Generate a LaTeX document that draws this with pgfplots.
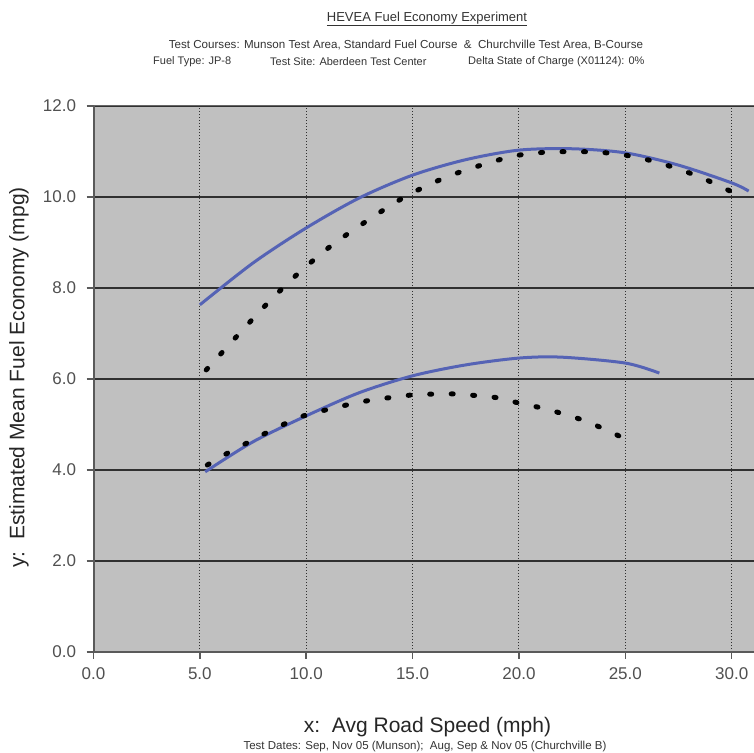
\documentclass[border=0pt]{standalone}
\usepackage{pgfplots}
\pgfplotsset{compat=1.18}
\usepackage{fontspec}
\setmainfont{Liberation Sans}
\definecolor{plotgray}{HTML}{C0C0C0}
\definecolor{axisgray}{HTML}{5A5A5A}
\definecolor{tickgray}{HTML}{505050}
\definecolor{lineblue}{HTML}{5563B5}
\definecolor{gridcol}{HTML}{303030}
\begin{document}
\begin{tikzpicture}[x=1pt,y=1pt]
\useasboundingbox (0,0) rectangle (754,752);
\begin{axis}[
  at={(93.5pt,100pt)}, anchor=south west,
  scale only axis, width=660.5pt, height=546pt,
  xmin=0, xmax=31.05, ymin=0, ymax=12,
  xtick={0,5,...,30}, ytick={0,2,...,12},
  axis x line=bottom, axis y line=left,
  axis line style={-, draw=axisgray, line width=2pt},
  axis background/.style={fill=plotgray},
  tick align=outside, major tick length=7pt,
  tick style={draw=axisgray, line width=1.5pt},
  xmajorgrids, ymajorgrids,
  x grid style={draw=gridcol, line width=1pt, dash pattern=on 1pt off 2pt},
  y grid style={draw=gridcol, line width=1.2pt, solid},
  tick label style={font=\fontsize{17}{17}\selectfont, text=tickgray},
  /pgf/number format/assume math mode=true,
  /pgf/number format/fixed, /pgf/number format/fixed zerofill, /pgf/number format/precision=1,
  xticklabel style={yshift=-5pt},
  yticklabel style={xshift=-7pt},
  clip=false,
]
\draw[draw=gray!80!black, line width=1pt] (rel axis cs:0,1) -- (rel axis cs:1,1);
% upper solid
\addplot[lineblue, line width=3pt, smooth] coordinates {
(5.0,7.63) (7.5,8.55) (10,9.32) (12.5,9.98) (15,10.48) (17.5,10.82) (20,11.03) (22.5,11.06) (25,10.97) (27.5,10.70) (30,10.31) (30.8,10.13)};
% upper dotted
\addplot[black, line width=5pt, smooth, line cap=round, dash pattern=on 2pt off 19.5pt] coordinates {
(5.3,6.2) (6.7,6.92) (8.15,7.65) (9.6,8.31) (11.15,8.92) (12.9,9.49) (14.7,10.02) (16.6,10.44) (18.5,10.74) (20,10.92) (21.5,10.99) (23.5,10.99) (25,10.92) (26.6,10.75) (28.5,10.44) (30.5,10.0)};
% lower solid
\addplot[lineblue, line width=3pt, smooth] coordinates {
(5.25,3.96) (7.5,4.62) (10,5.19) (12.5,5.70) (15,6.07) (17.5,6.31) (20,6.46) (22,6.48) (25,6.35) (26.6,6.13)};
% lower dotted
\addplot[black, line width=5pt, smooth, line cap=round, dash pattern=on 2pt off 19.5pt] coordinates {
(5.35,4.11) (6.3,4.37) (7.2,4.59) (8.6,4.93) (10,5.21) (11.1,5.34) (12.1,5.45) (13.1,5.54) (14.1,5.60) (15,5.65) (16.1,5.67) (17.1,5.67) (18.1,5.63) (19.1,5.58) (20,5.47) (21.1,5.36) (22.1,5.23) (23.1,5.08) (24.1,4.88) (25.1,4.66)};
\end{axis}
% titles and labels
\node[text=black!80] at (427,733) {\fontsize{13}{15}\selectfont\underline{HEVEA Fuel Economy Experiment}};
\node[text=black!80] at (406,707) {\fontsize{11.6}{13}\selectfont Test Courses: Munson Test Area, Standard Fuel Course \ \&\ \ Churchville Test Area, B-Course};
\node[text=black!80, anchor=west, inner sep=0pt] at (153,690) {\fontsize{11}{13}\selectfont Fuel Type: JP-8};
\node[text=black!80, anchor=west, inner sep=0pt] at (270,690) {\fontsize{11}{13}\selectfont Test Site: Aberdeen Test Center};
\node[text=black!80, anchor=west, inner sep=0pt] at (468,690) {\fontsize{11}{13}\selectfont Delta State of Charge (X01124): 0\%};
\node[text=black!85] at (427.5,25) {\fontsize{21}{23}\selectfont x:\ \ Avg Road Speed (mph)};
\node[text=black!80, inner sep=0pt] at (425,5.5) {\fontsize{11.5}{13}\selectfont Test Dates: Sep, Nov 05 (Munson);\ \ Aug, Sep \& Nov 05 (Churchville B)};
\node[text=black!85, rotate=90] at (19,374.5) {\fontsize{21}{23}\selectfont y:\ \ Estimated Mean Fuel Economy (mpg)};
\end{tikzpicture}
\end{document}
